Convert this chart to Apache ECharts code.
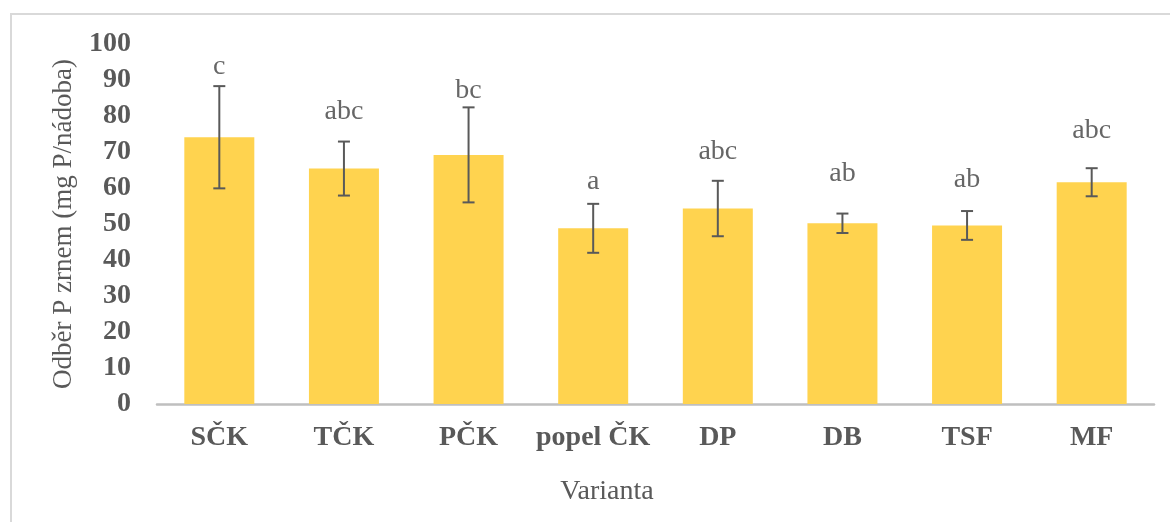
<!DOCTYPE html>
<html>
<head>
<meta charset="utf-8">
<script src="https://cdn.jsdelivr.net/npm/echarts@6/dist/echarts.min.js"></script>
<style>
  html, body { margin: 0; padding: 0; background: #ffffff; }
  #chart { width: 1170px; height: 522px; }
</style>
</head>
<body>
<div id="chart"></div>
<script>
// Varianty (categories)
const categories = ['SČK', 'TČK', 'PČK', 'popel ČK', 'DP', 'DB', 'TSF', 'MF'];
// Mean P uptake by grain (mg P/nádoba)
const means = [74.1, 65.4, 69.2, 48.8, 54.3, 50.2, 49.6, 61.6];
// Error bar half-widths (±)
const errors = [14.2, 7.5, 13.2, 6.8, 7.7, 2.7, 4.0, 3.9];
// Significance letters and the height where each one sits
const letters = ['c', 'abc', 'bc', 'a', 'abc', 'ab', 'ab', 'abc'];
const letterY = [93.6, 81.1, 87.1, 61.7, 70.1, 64.0, 62.4, 76.0];
// Y axis ticks
const yMin = 0, yMax = 100, yStep = 10;

const serif = '"Liberation Serif", "Times New Roman", serif';
const textGrey = '#595959';

const chart = echarts.init(document.getElementById('chart'), null, { renderer: 'canvas' });

const errorData = means.map((m, i) => [i, m - errors[i], m + errors[i]]);
const letterData = letters.map((t, i) => ({ value: [i, letterY[i]], name: t }));

chart.setOption({
  animation: false,
  backgroundColor: '#ffffff',
  graphic: [
    {
      type: 'rect',
      shape: { x: 11, y: 14, width: 1200, height: 560 },
      style: { fill: 'none', stroke: '#d9d9d9', lineWidth: 2 },
      silent: true,
      z: -1
    },
    {
      // x axis title
      type: 'text',
      x: 607,
      y: 492,
      style: {
        text: 'Varianta',
        align: 'center',
        verticalAlign: 'middle',
        fontFamily: serif,
        fontSize: 28,
        fill: textGrey
      },
      silent: true
    }
  ],
  grid: { left: 157, right: 16, top: 44, bottom: 118, containLabel: false },
  xAxis: {
    type: 'category',
    data: categories,
    axisLine: { show: true, lineStyle: { color: '#bfbfbf', width: 2.5 } },
    axisTick: { show: false },
    axisLabel: {
      interval: 0,
      margin: 20,
      fontFamily: serif, fontSize: 28, fontWeight: 'bold', color: textGrey
    }
  },
  yAxis: {
    type: 'value',
    min: yMin, max: yMax, interval: yStep,
    splitLine: { show: false },
    axisLine: { show: false },
    axisTick: { show: false },
    axisLabel: {
      margin: 26,
      fontFamily: serif, fontSize: 28, fontWeight: 'bold', color: textGrey
    },
    name: 'Odběr P zrnem (mg P/nádoba)',
    nameLocation: 'middle',
    nameGap: 80,
    nameTextStyle: { fontFamily: serif, fontSize: 27, color: textGrey }
  },
  series: [
    {
      type: 'bar',
      data: means,
      barWidth: 70,
      itemStyle: { color: '#ffd34f' },
      z: 2
    },
    {
      type: 'custom',
      data: errorData,
      z: 3,
      renderItem: function (params, api) {
        const x = api.value(0);
        const lo = api.coord([x, api.value(1)]);
        const hi = api.coord([x, api.value(2)]);
        const cap = 6;
        const style = { stroke: '#595959', lineWidth: 2 };
        return {
          type: 'group',
          children: [
            { type: 'line', shape: { x1: hi[0], y1: hi[1], x2: lo[0], y2: lo[1] }, style: style },
            { type: 'line', shape: { x1: hi[0] - cap, y1: hi[1], x2: hi[0] + cap, y2: hi[1] }, style: style },
            { type: 'line', shape: { x1: lo[0] - cap, y1: lo[1], x2: lo[0] + cap, y2: lo[1] }, style: style }
          ]
        };
      }
    },
    {
      type: 'scatter',
      data: letterData,
      symbolSize: 0,
      z: 4,
      label: {
        show: true,
        position: 'inside',
        formatter: p => p.name,
        fontFamily: serif,
        fontSize: 28,
        color: '#404040'
      }
    }
  ]
});
</script>
</body>
</html>
